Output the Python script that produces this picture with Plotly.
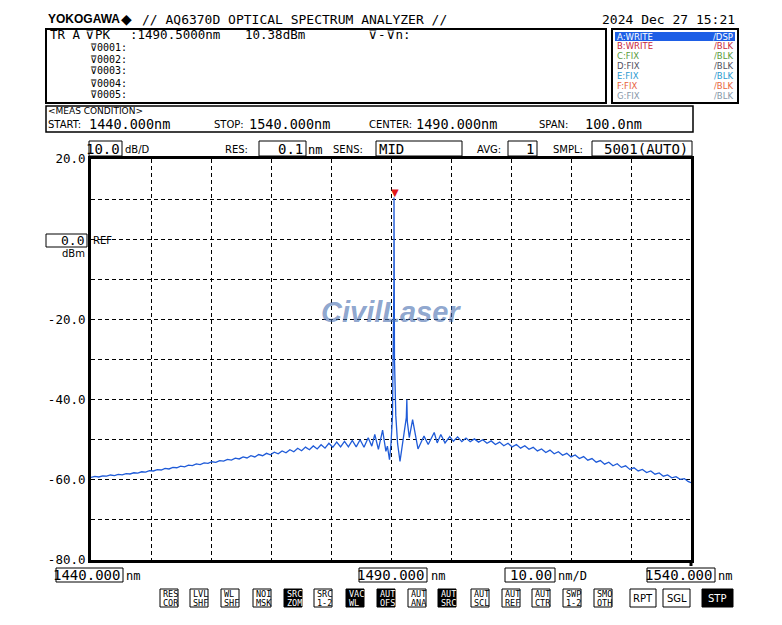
import plotly.graph_objects as go

wavelength_nm = [
    1440.0, 1440.65, 1441.3, 1441.95, 1442.6, 1443.25, 1443.9, 1444.55, 1445.2, 1445.85,
    1446.5, 1447.15, 1447.8, 1448.45, 1449.1, 1449.75, 1450.4, 1451.05, 1451.7, 1452.35,
    1453.0, 1453.65, 1454.3, 1454.95, 1455.6, 1456.25, 1456.9, 1457.55, 1458.2, 1458.85,
    1459.5, 1460.15, 1460.8, 1461.45, 1462.1, 1462.75, 1463.4, 1464.05, 1464.7, 1465.35,
    1466.0, 1466.65, 1467.3, 1467.95, 1468.6, 1469.25, 1469.9, 1470.55, 1471.2, 1471.85,
    1472.5, 1473.15, 1473.8, 1474.45, 1475.1, 1475.75, 1476.4, 1477.05, 1477.7, 1478.35,
    1479.0, 1479.65, 1480.3, 1480.95, 1481.6, 1482.25, 1482.9, 1483.55, 1484.2, 1484.85,
    1485.5, 1486.2, 1486.8, 1487.3, 1487.9, 1488.6, 1489.15, 1489.4, 1489.75,
    1490.0, 1490.25, 1490.4, 1490.46, 1490.48, 1490.5, 1490.52, 1490.58, 1490.8, 1491.1,
    1491.5, 1491.9, 1492.3, 1492.55, 1492.64, 1492.72, 1493.05, 1493.6, 1494.5, 1495.5,
    1496.2, 1497.2, 1497.7, 1498.3, 1499.0, 1499.8,
    1500.4, 1501.1, 1501.8, 1502.5, 1503.2, 1503.9, 1504.6, 1505.3, 1506.0, 1506.7,
    1507.4, 1508.1, 1508.8, 1509.5, 1510.2, 1510.9, 1511.6, 1512.3, 1513.0, 1513.7,
    1514.4, 1515.1, 1515.8, 1516.5, 1517.2, 1517.9, 1518.6, 1519.3, 1520.0, 1520.7,
    1521.4, 1522.1, 1522.8, 1523.5, 1524.2, 1524.9, 1525.6, 1526.3, 1527.0, 1527.7,
    1528.4, 1529.1, 1529.8, 1530.5, 1531.2, 1531.9, 1532.6, 1533.3, 1534.0, 1534.7,
    1535.4, 1536.1, 1536.8, 1537.5, 1538.2, 1538.9, 1539.5, 1540.0,
]
level_dbm = [
    -59.4, -59.15, -59.3, -59.0, -59.1, -58.8, -58.95, -58.65, -58.75, -58.45,
    -58.55, -58.25, -58.35, -58.0, -58.1, -57.7, -57.8, -57.45, -57.55, -57.15,
    -57.3, -56.9, -57.0, -56.6, -56.75, -56.35, -56.45, -56.05, -56.2, -55.8,
    -55.9, -55.5, -55.65, -55.2, -55.35, -54.9, -55.1, -54.6, -54.8, -54.3,
    -54.55, -54.0, -54.3, -53.7, -54.0, -53.4, -53.75, -53.1, -53.5, -52.8,
    -53.25, -52.5, -53.0, -52.15, -52.75, -51.85, -52.5, -51.55, -52.3, -51.25,
    -52.1, -50.9, -51.9, -50.6, -51.8, -50.4, -51.8, -50.2, -51.8, -50.0,
    -51.9, -49.5, -51.6, -48.7, -52.4, -47.6, -52.9, -51.6, -55.0,
    -51.0, -44.0, -30.0, -14.5, -11.0, 10.38, -12.0, -30.0, -44.0, -51.0,
    -55.4, -51.0, -47.0, -44.5, -40.0, -45.5, -49.5, -45.0, -52.3, -49.1,
    -51.2, -48.2, -50.8, -48.7, -50.8, -49.2,
    -50.4, -49.3, -50.5, -49.6, -50.5, -49.8, -50.6, -50.0, -50.9, -50.3,
    -51.2, -50.6, -51.5, -50.9, -51.8, -51.2, -52.1, -51.5, -52.4, -51.9,
    -52.8, -52.3, -53.2, -52.6, -53.5, -53.0, -53.9, -53.4, -54.3, -53.8,
    -54.7, -54.2, -55.1, -54.7, -55.6, -55.2, -56.1, -55.6, -56.5, -56.0,
    -56.9, -56.5, -57.4, -57.0, -57.8, -57.4, -58.2, -57.8, -58.6, -58.3,
    -59.1, -58.8, -59.5, -59.2, -59.9, -59.7, -60.4, -60.7,
]

x_range = [1440, 1540]
y_range = [-80, 20]
x_grid_step = 10
y_tick_vals = [20, 10, 0, -10, -20, -30, -40, -50, -60, -70, -80]
y_tick_text = ["20.0", "", "", "", "-20.0", "", "-40.0", "", "-60.0", "", "-80.0"]

# ---------------- page geometry (pixels of the page) ----------------
BODY = 8                      # default page margin around the figure
FW, FH = 782 - 2 * BODY, 625 - 2 * BODY
PL, PR, PT, PB = 91, 691, 159, 560   # plot frame in page pixels

MONO = "DejaVu Sans Mono"
SANS = "DejaVu Sans"
TRACE_BLUE = "#1f5bd8"


def fx(x):
    return (x - PL) / (PR - PL)


def fy(y):
    return (PB - y) / (PB - PT)


anns = []
shapes = []


def txt(x, y, s, size=13, color="black", family=MONO, anchor="left", weight="normal"):
    anns.append(dict(xref="paper", yref="paper", x=fx(x), y=fy(y), text=s,
                     showarrow=False, xanchor=anchor, yanchor="middle", borderpad=0,
                     font=dict(family=family, size=size, color=color, weight=weight)))


def rect(x0, y0, x1, y1, lw=1.0, fill=None, color="black"):
    shapes.append(dict(type="rect", xref="paper", yref="paper",
                       x0=fx(x0), x1=fx(x1), y0=fy(y1), y1=fy(y0),
                       line=dict(color=color, width=lw),
                       fillcolor=fill if fill else "rgba(0,0,0,0)", layer="above"))


# header
txt(47, 19, "YOKOGAWA", 12, family="Liberation Sans", weight="bold")
txt(120, 19, "◆", 14, family=SANS)
txt(141, 19, "// AQ6370D OPTICAL SPECTRUM ANALYZER //", 13)
txt(736, 19, "2024 Dec 27 15:21", 13, anchor="right")

# marker box
rect(46, 29, 606, 103, lw=2)
txt(49, 34, "TR A", 12.5)
txt(84, 34, "⊽PK", 12.5)
txt(129, 34, ":1490.5000nm", 12.5)
txt(244, 34, "10.38dBm", 12.5)
txt(367, 34, "⊽-⊽n:", 12.5)
for i, yy in enumerate([47, 59, 71, 83, 95]):
    txt(89, yy, "⊽000%d:" % (i + 1), 10)

# trace box
rect(612, 29, 738, 103, lw=2)
rect(615, 32, 735, 41, lw=0, fill="#1e5fe6")
trace_rows = [
    ("A:WRITE", "/DSP", "white"),
    ("B:WRITE", "/BLK", "#c8283c"),
    ("C:FIX", "/BLK", "#5a9a3c"),
    ("D:FIX", "/BLK", "#505060"),
    ("E:FIX", "/BLK", "#2c9ad0"),
    ("F:FIX", "/BLK", "#e8643c"),
    ("G:FIX", "/BLK", "#8898a8"),
]
for i, (a, b, c) in enumerate(trace_rows):
    yy = 36.5 + i * 9.9
    txt(616, yy, a, 8.5, color=c, family=SANS)
    txt(734, yy, b, 8.5, color=c, family=SANS, anchor="right")

# measurement condition box
rect(46, 106, 693, 132, lw=1.5)
txt(47, 111.3, "&lt;MEAS CONDITION&gt;", 9, family=SANS)
txt(47, 125, "START:", 10, family=SANS)
txt(88, 124, "1440.000nm", 13.5)
txt(213, 125, "STOP:", 10, family=SANS)
txt(248, 124, "1540.000nm", 13.5)
txt(368, 125, "CENTER:", 10, family=SANS)
txt(415, 124, "1490.000nm", 13.5)
txt(538, 125, "SPAN:", 10, family=SANS)
txt(584, 124, "100.0nm", 13.5)

# settings row
rect(89, 141, 122, 156)
txt(121, 148.5, "10.0", 14, anchor="right")
txt(124, 149.5, "dB/D", 10, family=SANS)
txt(224, 149.5, "RES:", 10, family=SANS)
rect(259, 141, 306, 156)
txt(304, 148.5, "0.1", 14, anchor="right")
txt(307, 149.5, "nm", 12)
txt(332, 149.5, "SENS:", 10, family=SANS)
rect(376, 141, 462, 156)
txt(378, 148.5, "MID", 14)
txt(476, 149.5, "AVG:", 10, family=SANS)
rect(508, 141, 537, 156)
txt(535, 148.5, "1", 14, anchor="right")
txt(552, 149.5, "SMPL:", 10, family=SANS)
rect(592, 141, 692, 156)
txt(689, 148.5, "5001(AUTO)", 14, anchor="right")

# reference level
rect(46, 234, 87, 247)
txt(85, 240.5, "0.0", 13, anchor="right")
txt(92, 240.5, "REF", 10, family=SANS)
txt(86, 253, "dBm", 10, family=SANS, anchor="right")

# right frame edge runs a little below the plot
shapes.append(dict(type="line", xref="paper", yref="paper", x0=fx(PR), x1=fx(PR),
                   y0=fy(PB), y1=fy(PB + 6), line=dict(color="black", width=3)))

# bottom wavelength boxes
rect(56, 568, 123, 582)
txt(121, 575, "1440.000", 14, anchor="right")
txt(125, 576, "nm", 12)
rect(359, 568, 427, 582)
txt(425, 575, "1490.000", 14, anchor="right")
txt(430, 576, "nm", 12)
rect(505, 568, 555, 582)
txt(553, 575, "10.00", 14, anchor="right")
txt(557, 576, "nm/D", 12)
rect(647, 568, 715, 582)
txt(713, 575, "1540.000", 14, anchor="right")
txt(717, 576, "nm", 12)

# soft keys
buttons = [
    (160, "RES", "COR", False), (190, "LVL", "SHF", False), (221, "WL", "SHF", False),
    (253, "NOI", "MSK", False), (284, "SRC", "ZOM", True), (314, "SRC", "1-2", False),
    (346, "VAC", "WL", True), (377, "AUT", "OFS", True), (408, "AUT", "ANA", False),
    (438, "AUT", "SRC", True), (471, "AUT", "SCL", False), (502, "AUT", "REF", False),
    (532, "AUT", "CTR", False), (563, "SWP", "1-2", False), (594, "SMO", "OTH", False),
]
for x0, t1, t2, inv in buttons:
    rect(x0, 589, x0 + 18, 607, fill="black" if inv else "white")
    col = "white" if inv else "black"
    txt(x0 + 1.5, 593.5, t1, 8.5, color=col)
    txt(x0 + 1.5, 602.5, t2, 8.5, color=col)
for x0, x1, t, inv in [(630, 656, "RPT", False), (663, 690, "SGL", False), (702, 733, "STP", True)]:
    rect(x0, 589, x1, 607, fill="black" if inv else "white")
    txt((x0 + x1) / 2, 598, t, 10, color="white" if inv else "black", family=SANS, anchor="center")

# watermark
anns.append(dict(xref="paper", yref="paper", x=fx(391), y=fy(312), text="CivilLaser",
                 showarrow=False, xanchor="center", yanchor="middle",
                 font=dict(family="Liberation Sans", size=29, color="rgba(70,110,175,0.62)",
                           weight="bold", style="italic")))

# peak marker from data
ipk = max(range(len(level_dbm)), key=lambda i: level_dbm[i])
anns.append(dict(x=wavelength_nm[ipk], y=level_dbm[ipk], xref="x", yref="y", text="▼",
                 showarrow=False, yanchor="bottom", yshift=-2, xshift=0.5,
                 font=dict(family=SANS, size=10, color="#e01818")))

fig = go.Figure()
fig.add_trace(go.Scatter(x=wavelength_nm, y=level_dbm, mode="lines",
                         line=dict(color=TRACE_BLUE, width=1.3), hoverinfo="skip"))

fig.update_layout(
    width=FW, height=FH, autosize=False,
    margin=dict(l=PL - BODY, r=FW - (PR - BODY), t=PT - BODY, b=FH - (PB - BODY), pad=0),
    paper_bgcolor="white", plot_bgcolor="white",
    showlegend=False,
    annotations=anns, shapes=shapes,
    xaxis=dict(range=x_range, dtick=x_grid_step, tick0=x_range[0], showticklabels=False,
               ticks="", showgrid=True, gridcolor="black", gridwidth=1, griddash="4px,3px",
               showline=True, linecolor="black", linewidth=3, mirror=True, zeroline=False),
    yaxis=dict(range=y_range, tickmode="array", tickvals=y_tick_vals, ticktext=y_tick_text,
               ticks="", showgrid=True, gridcolor="black", gridwidth=1, griddash="4px,3px",
               showline=True, linecolor="black", linewidth=3, mirror=True, zeroline=False,
               tickfont=dict(family=MONO, size=12.5, color="black")),
)

fig.write_html("out.html")
